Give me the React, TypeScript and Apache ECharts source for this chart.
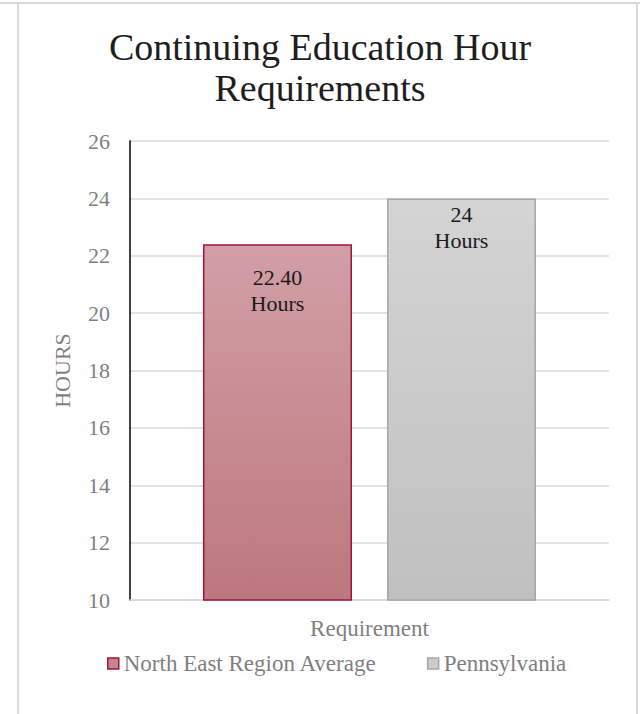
import React, { useEffect, useRef } from "react";
import * as echarts from "echarts";

const categories = ["Requirement"];
const seriesNames = ["North East Region Average", "Pennsylvania"];
const northEastValues = [22.4];
const pennsylvaniaValues = [24];
const labelTexts = ["22.40", "24"];
const yTicks = { min: 10, max: 26, interval: 2 };

const FONT = "'Liberation Serif', 'DejaVu Serif', serif";

export default function App() {
  const ref = useRef<HTMLDivElement>(null);
  useEffect(() => {
    if (!ref.current) return;
    const chart = echarts.init(ref.current, undefined, { renderer: "svg" });
    const redFill = new echarts.graphic.LinearGradient(0, 0, 0, 1, [
      { offset: 0, color: "#d29fa6" },
      { offset: 1, color: "#bd777e" },
    ]);
    const grayFill = new echarts.graphic.LinearGradient(0, 0, 0, 1, [
      { offset: 0, color: "#d4d4d4" },
      { offset: 1, color: "#c0c0c0" },
    ]);
    chart.setOption({
      animation: false,
      backgroundColor: "#ffffff",
      textStyle: { fontFamily: FONT },
      title: {
        text: "Continuing Education Hour\nRequirements",
        left: "center",
        top: 21,
        textStyle: {
          fontFamily: FONT,
          fontSize: 38,
          fontWeight: "normal",
          color: "#1e1e1e",
          lineHeight: 41,
        },
      },
      graphic: [
        { type: "line", shape: { x1: 0, y1: 3, x2: 640, y2: 3 }, style: { stroke: "#d9d9d9", lineWidth: 2 } },
        { type: "line", shape: { x1: 18, y1: 3, x2: 18, y2: 714 }, style: { stroke: "#d9d9d9", lineWidth: 2 } },
        { type: "line", shape: { x1: 637, y1: 3, x2: 637, y2: 714 }, style: { stroke: "#d9d9d9", lineWidth: 2 } },
      ],
      legend: {
        bottom: 34,
        left: 102,
        itemWidth: 11,
        itemHeight: 11,
        itemGap: 50,
        icon: "rect",
        textStyle: { fontFamily: FONT, fontSize: 23, color: "#7f7f7f" },
        data: [
          { name: seriesNames[0], itemStyle: { color: "#c4868c", borderColor: "#a01440", borderWidth: 1.5 } },
          { name: seriesNames[1], itemStyle: { color: "#cccccc", borderColor: "#a6a6a6", borderWidth: 1.5 } },
        ],
      },
      grid: { left: 130, right: 31, top: 141, bottom: 114 },
      xAxis: {
        type: "category",
        data: categories,
        axisLine: { show: true, lineStyle: { color: "#d9d9d9", width: 1.5 } },
        axisTick: { show: false },
        axisLabel: { fontFamily: FONT, fontSize: 23, color: "#7f7f7f", margin: 17 },
      },
      yAxis: {
        type: "value",
        min: yTicks.min,
        max: yTicks.max,
        interval: yTicks.interval,
        name: "HOURS",
        nameLocation: "middle",
        nameRotate: 90,
        nameGap: 57,
        nameTextStyle: { fontFamily: FONT, fontSize: 22, color: "#7f7f7f" },
        axisLine: { show: true, lineStyle: { color: "#000000", width: 1.5 } },
        axisTick: { show: false },
        axisLabel: { fontFamily: FONT, fontSize: 22, color: "#7f7f7f", margin: 20 },
        splitLine: { show: true, lineStyle: { color: "#d9d9d9", width: 1.5 } },
      },
      series: [
        {
          name: seriesNames[0],
          type: "bar",
          barWidth: 149,
          barGap: "23.5%",
          data: northEastValues.map((v) => ({
            value: v,
            label: {
              show: true,
              position: "insideTop",
              distance: 20,
              formatter: labelTexts[0] + "\nHours",
              fontFamily: FONT,
              fontSize: 22,
              lineHeight: 26,
              color: "#1a1a1a",
            },
          })),
          itemStyle: { color: redFill, borderColor: "#a01440", borderWidth: 1.5 },
        },
        {
          name: seriesNames[1],
          type: "bar",
          barWidth: 149,
          data: pennsylvaniaValues.map((v) => ({
            value: v,
            label: {
              show: true,
              position: "insideTop",
              distance: 3,
              formatter: labelTexts[1] + "\nHours",
              fontFamily: FONT,
              fontSize: 22,
              lineHeight: 26,
              color: "#1a1a1a",
            },
          })),
          itemStyle: { color: grayFill, borderColor: "#a6a6a6", borderWidth: 1.5 },
        },
      ],
    });
    return () => chart.dispose();
  }, []);
  return (
    <div
      ref={ref}
      style={{ position: "absolute", left: 0, top: 0, width: 640, height: 714 }}
    />
  );
}
